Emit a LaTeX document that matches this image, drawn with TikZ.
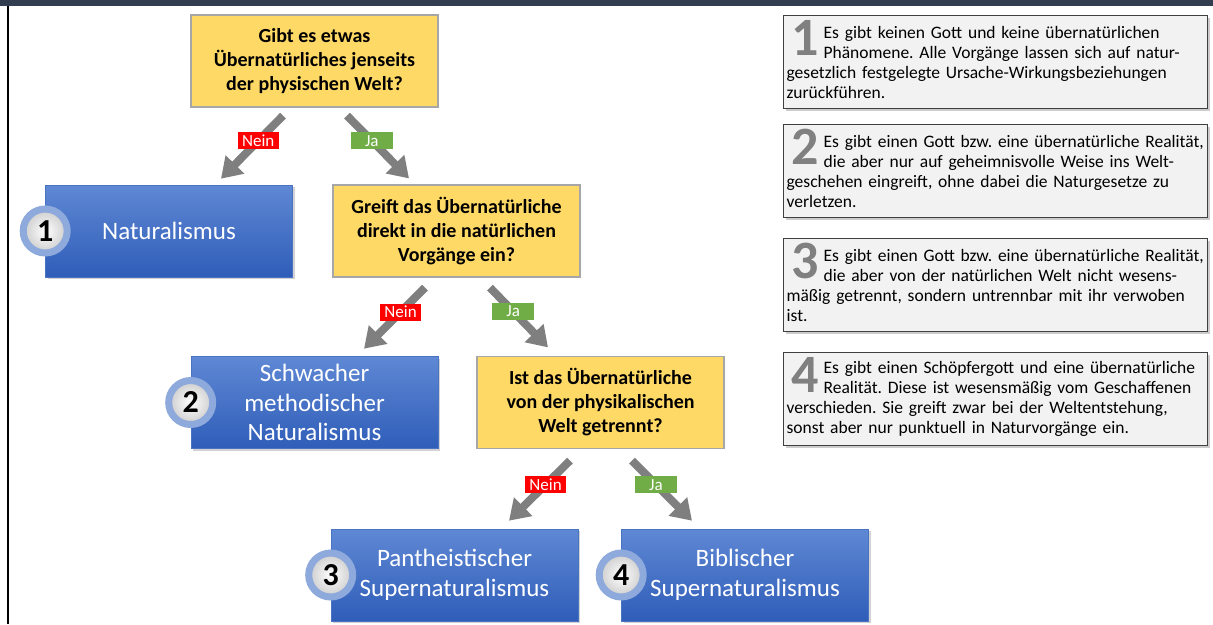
\documentclass[tikz,border=0pt]{standalone}
\usepackage{fontspec}
\setmainfont{Carlito}
\usetikzlibrary{arrows.meta,shadows,calc}
\definecolor{quest}{HTML}{FFD966}
\definecolor{questframe}{HTML}{A6A6A6}
\definecolor{answertop}{HTML}{5F88D4}
\definecolor{answerbot}{HTML}{2F5DB8}
\definecolor{answerframe}{HTML}{4A73C4}
\definecolor{ring}{HTML}{8EA9DB}
\definecolor{flowgray}{HTML}{7F7F7F}
\definecolor{neinred}{HTML}{FF0000}
\definecolor{jagreen}{HTML}{70AD47}
\definecolor{boxfill}{HTML}{F2F2F2}
\definecolor{boxframe}{HTML}{404040}
\definecolor{numgray}{HTML}{808080}
\definecolor{header}{HTML}{323E4F}
\frenchspacing
\newcommand{\ind}{\hspace*{37pt}}
\begin{document}
\begin{tikzpicture}[x=1pt,y=-1pt,
  question/.style={draw=questframe,line width=1.2pt,fill=quest,minimum width=247pt,minimum height=92pt,align=center,font=\fontsize{20}{24}\selectfont\bfseries},
  answer/.style={draw=answerframe,line width=0.6pt,top color=answertop,bottom color=answerbot,minimum width=247pt,minimum height=92pt,align=center,text=white,font=\fontsize{25}{29.5}\selectfont,drop shadow={opacity=0.35,shadow xshift=2pt,shadow yshift=-2pt}},
  badge/.style={circle,draw=ring,line width=7pt,minimum size=44pt,inner sep=0pt,inner color=white,outer color=gray!40,font=\fontsize{32}{32}\selectfont\bfseries},
  flow/.style={draw=flowgray,line width=8pt,-{Triangle[length=20pt,width=25pt]}},
  nein/.style={fill=neinred,text=white,font=\fontsize{17}{17}\selectfont,inner xsep=4.5pt,inner ysep=0pt,minimum height=17pt},
  ja/.style={nein,fill=jagreen,minimum width=42pt},
  infobox/.style={anchor=north west,draw=boxframe,line width=1.2pt,fill=boxfill,text width=418pt,inner xsep=3pt,inner ysep=3pt,minimum height=93pt,align=left,font=\fontsize{17.5}{20}\selectfont,drop shadow={opacity=0.4,shadow xshift=2pt,shadow yshift=-2pt}},
  bignum/.style={anchor=north west,text=numgray,inner sep=0pt,font=\fontsize{54}{54}\selectfont\bfseries}]
\useasboundingbox (0,0) rectangle (1213,624);
\fill[white] (0,0) rectangle (1213,624);
\fill[header] (0,0) rectangle (1213,6);
\draw[line width=2pt] (8,6) -- (8,624);
% decision tree
\node[question] (q1) at (314.5,61) {Gibt es etwas\\Übernatürliches jenseits\\der physischen Welt?};
\node[answer] (n1) at (169,231) {Naturalismus};
\node[question] (q2) at (456.5,231) {Greift das Übernatürliche\\direkt in die natürlichen\\Vorgänge ein?};
\node[answer] (n2) at (314.5,402.5) {Schwacher\\methodischer\\Naturalismus};
\node[question] (q3) at (600.5,402.5) {Ist das Übernatürliche\\von der physikalischen\\Welt getrennt?};
\node[answer] (n3) at (454.5,575) {Pantheistischer\\Supernaturalismus};
\node[answer] (n4) at (745,575) {Biblischer\\Supernaturalismus};
\node[badge] (b1) at (n1.west) {1};
\node[badge] (b2) at (n2.west) {2};
\node[badge] (b3) at (n3.west) {3};
\node[badge] (b4) at (n4.west) {4};
\draw[flow] ($(q1.south)+(-31.5,8)$) -- ($(n1.north)+(52,-6)$) node[nein,pos=0.4] {Nein};
\draw[flow] ($(q1.south)+(32.5,8)$) -- ($(q2.north)+(-47.5,-6)$) node[ja,pos=0.4] {Ja};
\draw[flow] ($(q2.south)+(-31.5,10)$) -- ($(n2.north)+(49.5,-7.5)$) node[nein,pos=0.4] {Nein};
\draw[flow] ($(q2.south)+(33.5,10)$) -- ($(q3.north)+(-52.5,-8.5)$) node[ja,pos=0.4] {Ja};
\draw[flow] ($(q3.south)+(-30.5,11.5)$) -- ($(n3.north)+(54.5,-8)$) node[nein,pos=0.4] {Nein};
\draw[flow] ($(q3.south)+(31.5,11.5)$) -- ($(n4.north)+(-53,-8)$) node[ja,pos=0.4] {Ja};
% explanations
\node[infobox] (t1) at (783,15) {\ind Es gibt keinen Gott und keine übernatürlichen\\\ind Phänomene. Alle Vorgänge lassen sich auf natur-\\gesetzlich festgelegte Ursache-Wirkungsbeziehungen\\zurückführen.};
\node[infobox] (t2) at (783,124) {\ind Es gibt einen Gott bzw. eine übernatürliche Realität,\\\ind die aber nur auf geheimnisvolle Weise ins Welt-\\geschehen eingreift, ohne dabei die Naturgesetze zu\\verletzen.};
\node[infobox] (t3) at (783,238) {\ind Es gibt einen Gott bzw. eine übernatürliche Realität,\\\ind die aber von der natürlichen Welt nicht wesens-\\mäßig getrennt, sondern untrennbar mit ihr verwoben\\ist.};
\node[infobox] (t4) at (783,352) {\ind Es gibt einen Schöpfergott und eine übernatürliche\\\ind Realität. Diese ist wesensmäßig vom Geschaffenen\\verschieden. Sie greift zwar bei der Weltentstehung,\\sonst aber nur punktuell in Naturvorgänge ein.};
\node[bignum] (m1) at ($(t1.north west)+(8,5)$) {1};
\node[bignum] (m2) at ($(t2.north west)+(8,5)$) {2};
\node[bignum] (m3) at ($(t3.north west)+(8,5)$) {3};
\node[bignum] (m4) at ($(t4.north west)+(8,5)$) {4};
\end{tikzpicture}
\end{document}
